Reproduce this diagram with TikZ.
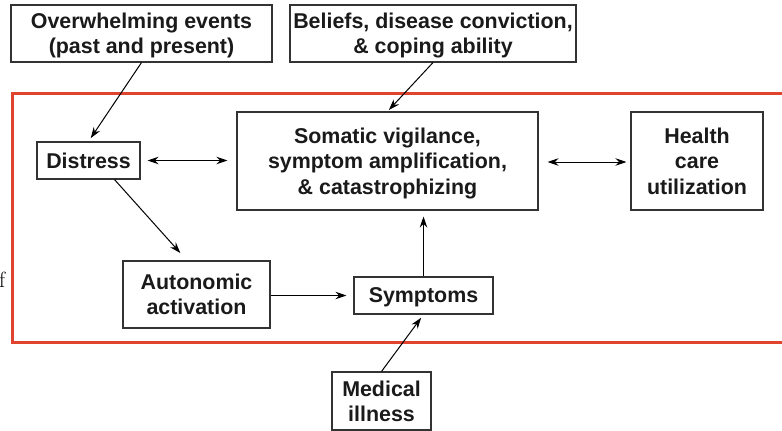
\documentclass[tikz,border=0pt]{standalone}
\usepackage{fontspec}
\newfontfamily\hv{Liberation Sans}
\usetikzlibrary{arrows.meta}
\definecolor{boxline}{HTML}{333333}
\definecolor{txt}{HTML}{1A1A1A}
\definecolor{redline}{HTML}{E0442E}
\tikzset{
  box/.style={draw=boxline, line width=1.1pt, fill=white, inner sep=0pt, align=center,
    text=txt, text depth=0pt, font=\hv\bfseries\fontsize{21.4}{25.3}\selectfont},
  arr/.style={draw=black, line width=1pt, -{Stealth[length=11pt,width=7.5pt]}},
  darr/.style={draw=black, line width=1pt, {Stealth[length=11pt,width=7.5pt]}-{Stealth[length=11pt,width=7.5pt]}}
}
\begin{document}
\begin{tikzpicture}[x=1pt,y=-1pt]
\useasboundingbox (0,0) rectangle (782,431);
% red frame (open on right, extends past picture)
\draw[redline, line width=3pt] (790,93) -- (12,93) -- (12,342) -- (790,342);

\node[box, minimum width=261pt, minimum height=57pt] (over) at (141.5,33.5) {Overwhelming events\\(past and present)};
\node[box, minimum width=286pt, minimum height=57pt] (beliefs) at (433,33.5) {Beliefs, disease conviction,\\\& coping ability};
\node[box, minimum width=103pt, minimum height=37pt] (distress) at (88.5,160.5) {Distress};
\node[box, minimum width=301pt, minimum height=98pt] (somatic) at (387.5,161) {Somatic vigilance,\\symptom amplification,\\\& catastrophizing};
\node[box, minimum width=132pt, minimum height=98pt] (health) at (697,161) {Health\\care\\utilization};
\node[box, minimum width=147pt, minimum height=67pt] (auto) at (196.5,294.5) {Autonomic\\activation};
\node[box, minimum width=139pt, minimum height=37pt] (sympt) at (423.5,295.5) {Symptoms};
\node[box, minimum width=99pt, minimum height=58pt] (medical) at (381.5,401) {Medical\\illness};
\node[font=\rmfamily\fontsize{22}{24}\selectfont, inner sep=0pt, anchor=base west] (fmark) at (-1,287) {f};

\draw[arr, shorten >=4pt] (over.south) -- (distress.north);
\draw[arr, shorten >=2pt] (beliefs.south) -- (somatic.north);
\draw[darr, shorten <=7pt, shorten >=9pt] (distress.east) -- (distress.east -| somatic.west);
\draw[darr, shorten <=9pt, shorten >=4pt] ([yshift=-1pt]somatic.east) -- ([yshift=-1pt]somatic.east -| health.west);
\draw[arr, shorten >=10pt] ([xshift=26pt]distress.south) -- ([xshift=-9.5pt]auto.north);
\draw[arr, shorten >=7pt] ([yshift=-1pt]auto.east) -- ([yshift=-1pt]auto.east -| sympt.west);
\draw[arr, shorten >=6pt] (sympt.north) -- (sympt.north |- somatic.south);
\draw[arr, shorten >=4pt] (medical.north) -- (sympt.south);
\end{tikzpicture}
\end{document}
